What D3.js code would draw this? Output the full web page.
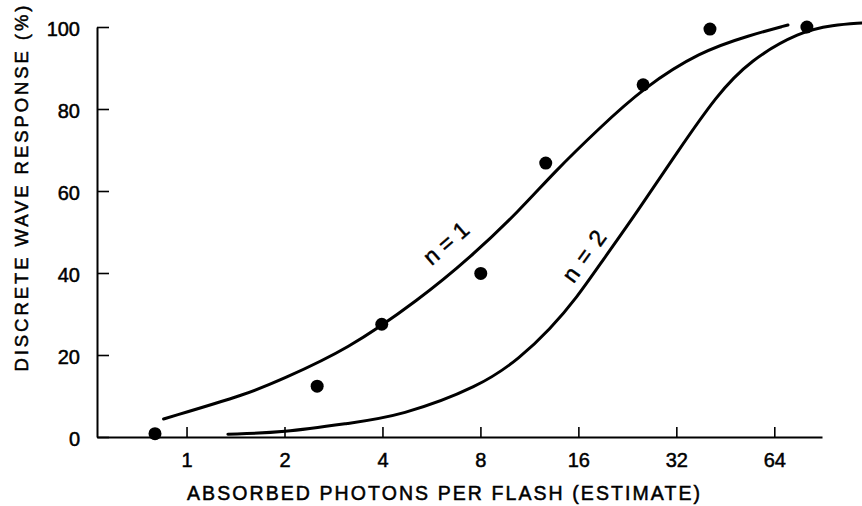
<!DOCTYPE html>
<html>
<head>
<meta charset="utf-8">
<script src="https://cdn.jsdelivr.net/npm/d3@7"></script>
<style>
  html, body { margin: 0; padding: 0; background: #fff; }
  svg { display: block; }
  text { font-family: "Liberation Sans", "DejaVu Sans", sans-serif; fill: #000; }
</style>
</head>
<body>
<svg id="chart" width="862" height="506"></svg>
<script>
// Measured response: absorbed photons per flash vs. percent of flashes with a discrete wave
const photons = [0.80, 2.52, 3.98, 8.02, 12.7, 25.3, 40.6, 80.6];
const response = [0.8, 12.4, 27.5, 39.9, 66.8, 85.9, 99.5, 100];

// Fitted curve, n = 1
const n1Photons = [0.85, 1.57, 1.94, 3.11, 5.22, 7.43, 10.6, 13.4, 18.6, 25.3, 37.8, 53.9, 70.5];
const n1Response = [4.4, 10.7, 13.9, 21.2, 33.7, 43.7, 55.4, 64.4, 75.4, 85.1, 94.0, 98.0, 100.5];

// Fitted curve, n = 2
const n2Photons = [1.34, 1.98, 3.18, 4.53, 7.98, 10.6, 13.1, 15.8, 19.05, 24.2, 32.1, 42.6, 53.9, 76.8, 97.0, 119];
const n2Response = [0.7, 1.05, 3.4, 5.1, 12.3, 19.3, 26.3, 33.9, 43.2, 54.8, 69.3, 83.4, 91.9, 98.9, 100.5, 101];

// Axis ticks and labels
const xTicks = [1, 2, 4, 8, 16, 32, 64];
const yTicks = [0, 20, 40, 60, 80, 100];
const xTitle = "ABSORBED PHOTONS PER FLASH (ESTIMATE)";
const yTitle = "DISCRETE WAVE RESPONSE (%)";
const curveLabels = ["n = 1", "n = 2"];
const curveLabelAt = [[6.27, 47.3], [16.65, 44.1]];

const FONT = "Liberation Sans, DejaVu Sans, sans-serif";

const svg = d3.select("#chart");
svg.append("rect").attr("width", 862).attr("height", 506).attr("fill", "#fff");

const x = d3.scaleLog().base(2).domain([0.5307, 89.7]).range([97, 822]);
const y = d3.scaleLinear().domain([0, 100]).range([437, 27]);

// Lettering is drawn slightly heavier than the regular face
function heavy(sel, w) {
  sel.attr("stroke", "#000").attr("stroke-width", w).attr("paint-order", "stroke");
}

// X axis: ticks pointing up into the plot
const gx = svg.append("g")
  .attr("transform", `translate(0,${y(0)})`)
  .call(d3.axisBottom(x).tickValues(xTicks).tickFormat(d3.format("d"))
    .tickSizeInner(-10).tickSizeOuter(0).tickPadding(16));
gx.select(".domain").attr("stroke", "#000").attr("stroke-width", 2);
gx.selectAll(".tick line").attr("stroke", "#000").attr("stroke-width", 1.6);
gx.selectAll(".tick text").attr("font-size", 20).attr("font-family", FONT).attr("fill", "#000")
  .call(heavy, 0.5);

// Y axis: ticks pointing right into the plot
const gy = svg.append("g")
  .attr("transform", `translate(${x.range()[0]},0)`)
  .call(d3.axisLeft(y).tickValues(yTicks).tickFormat(d3.format("d"))
    .tickSizeInner(-12).tickSizeOuter(0).tickPadding(17));
gy.select(".domain").attr("stroke", "#000").attr("stroke-width", 2);
gy.selectAll(".tick line").attr("stroke", "#000").attr("stroke-width", 1.6);
gy.selectAll(".tick text").attr("font-size", 20).attr("dy", "0.42em")
  .attr("font-family", FONT).attr("fill", "#000")
  .call(heavy, 0.5);

// Axis titles
svg.append("text")
  .attr("x", 443.5).attr("y", 500)
  .attr("text-anchor", "middle")
  .attr("font-size", 19.5)
  .attr("textLength", 513).attr("lengthAdjust", "spacing")
  .text(xTitle)
  .call(heavy, 0.5);

svg.append("text")
  .attr("transform", "translate(28,188.5) rotate(-90)")
  .attr("text-anchor", "middle")
  .attr("font-size", 18.5)
  .attr("textLength", 366).attr("lengthAdjust", "spacing")
  .text(yTitle)
  .call(heavy, 0.5);

// Fitted curves (smoothed through the sampled points)
const line = d3.line()
  .x(d => x(d[0])).y(d => y(d[1]))
  .curve(d3.curveBasis);

const curves = [
  d3.zip(n1Photons, n1Response),
  d3.zip(n2Photons, n2Response)
];
svg.selectAll("path.fit").data(curves).join("path")
  .attr("class", "fit")
  .attr("d", line)
  .attr("fill", "none")
  .attr("stroke", "#000")
  .attr("stroke-width", 3)
  .attr("stroke-linecap", "round");

// Curve labels, drawn along the curves
const labelAngle = [-41, -54];
const labelLength = [52, 58];
svg.selectAll("text.curve-label").data(curveLabels).join("text")
  .attr("class", "curve-label")
  .attr("transform", (d, i) => `translate(${x(curveLabelAt[i][0])},${y(curveLabelAt[i][1])}) rotate(${labelAngle[i]})`)
  .attr("text-anchor", "middle")
  .attr("dominant-baseline", "central")
  .attr("font-size", 23)
  .attr("textLength", (d, i) => labelLength[i]).attr("lengthAdjust", "spacing")
  .text(d => d)
  .call(heavy, 0.5);

// Measured points
svg.selectAll("circle.obs").data(d3.zip(photons, response)).join("circle")
  .attr("class", "obs")
  .attr("cx", d => x(d[0]))
  .attr("cy", d => y(d[1]))
  .attr("r", 6.5)
  .attr("fill", "#000");
</script>
</body>
</html>
